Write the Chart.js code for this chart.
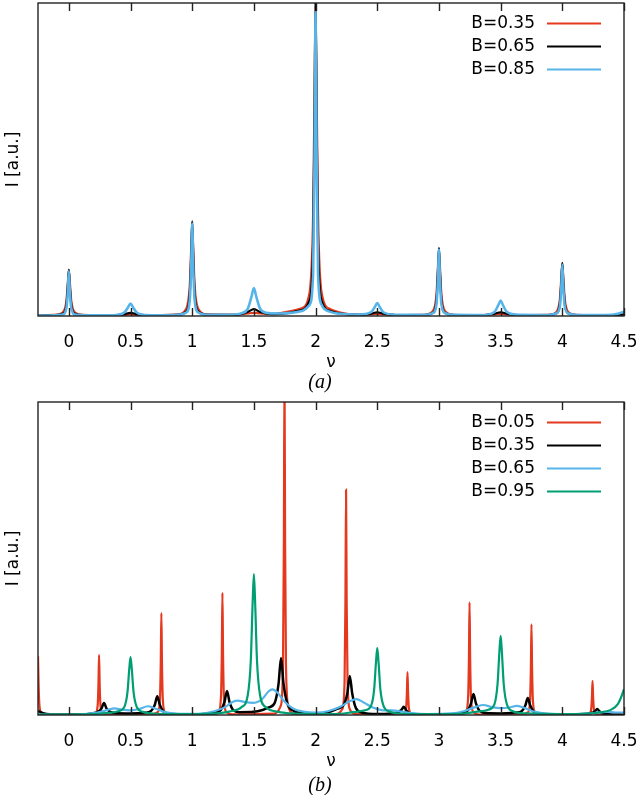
<!DOCTYPE html>
<html>
<head>
<meta charset="utf-8">
<script src="https://cdn.jsdelivr.net/npm/chart.js@4"></script>
<style>
  html, body { margin: 0; padding: 0; background: #fff; }
  #wrap { position: relative; width: 640px; height: 795px; }
  .panel { position: absolute; left: 0; width: 640px; }
  .cap { position: absolute; left: 0; width: 640px; text-align: center;
         font: italic 20px "Liberation Serif", "DejaVu Serif", serif; line-height: 24px; color: #000; }
</style>
</head>
<body>
<div id="wrap">
  <div class="panel" style="top:0;height:374px"><canvas id="chartA"></canvas></div>
  <div class="cap" style="top:369px">(a)</div>
  <div class="panel" style="top:395px;height:378px"><canvas id="chartB"></canvas></div>
  <div class="cap" style="top:772px">(b)</div>
</div>
<script>
// x axis
const xMin = -0.25;
const xMax = 4.5;
const xTicks = [0, 0.5, 1, 1.5, 2, 2.5, 3, 3.5, 4, 4.5];

// panel (a) labels and spectra, [nu, I] (I in % of the frame height)
const labelsA = ['B=0.35', 'B=0.65', 'B=0.85'];

const specA035 = [
  [-0.25,0.15],[-0.12,0.35],[-0.05,1.1],[-0.02,4.8],[-0.008,10.9],[0,14.5],[0.008,10.9],[0.02,4.8],[0.05,1.1],[0.12,0.35],
  [0.35,0.2],[0.45,0.35],[0.5,0.5],[0.55,0.35],[0.65,0.2],
  [0.88,0.5],[0.95,2.2],[0.98,9.7],[0.992,22],[1,29.5],[1.008,22],[1.02,9.7],[1.05,2.2],[1.12,0.55],
  [1.35,0.4],[1.45,0.8],[1.5,1.0],[1.55,0.8],[1.65,0.6],
  [1.8,1.6],[1.88,2.4],[1.95,7.2],[1.98,32.7],[1.992,74],[2,99],[2.008,74],[2.02,32.7],[2.05,7.2],[2.12,2.2],[2.2,1.1],
  [2.35,0.35],[2.45,0.55],[2.5,0.7],[2.55,0.55],[2.65,0.3],
  [2.88,0.4],[2.95,1.5],[2.98,7],[2.992,16],[3,21.2],[3.008,16],[3.02,7],[3.05,1.5],[3.12,0.4],
  [3.35,0.25],[3.45,0.55],[3.5,0.7],[3.55,0.55],[3.65,0.25],
  [3.88,0.35],[3.95,1.2],[3.98,5.4],[3.992,12.3],[4,16.4],[4.008,12.3],[4.02,5.4],[4.05,1.2],[4.12,0.35],
  [4.35,0.2],[4.5,0.3]
];

const specA065 = [
  [-0.25,0.1],[-0.12,0.25],[-0.05,0.7],[-0.02,3.4],[-0.008,9.6],[0,14.8],[0.008,9.6],[0.02,3.4],[0.05,0.7],[0.12,0.25],
  [0.35,0.2],[0.45,0.6],[0.5,1.0],[0.55,0.6],[0.65,0.2],
  [0.88,0.35],[0.95,1.4],[0.98,6.9],[0.992,19.6],[1,30.2],[1.008,19.6],[1.02,6.9],[1.05,1.4],[1.12,0.4],
  [1.35,0.4],[1.45,1.3],[1.5,2.2],[1.55,1.3],[1.65,0.6],
  [1.8,1.1],[1.88,1.8],[1.95,4.8],[1.98,23],[1.992,66],[2,101],[2.008,66],[2.02,23],[2.05,4.8],[2.12,1.6],[2.2,0.8],
  [2.35,0.35],[2.45,0.75],[2.5,1.2],[2.55,0.75],[2.65,0.3],
  [2.88,0.3],[2.95,1.0],[2.98,5],[2.992,14.2],[3,21.8],[3.008,14.2],[3.02,5],[3.05,1.0],[3.12,0.3],
  [3.35,0.25],[3.45,0.75],[3.5,1.2],[3.55,0.75],[3.65,0.25],
  [3.88,0.3],[3.95,0.8],[3.98,3.9],[3.992,11],[4,17],[4.008,11],[4.02,3.9],[4.05,0.8],[4.12,0.3],
  [4.35,0.2],[4.5,0.5]
];

const specA085 = [
  [-0.25,0.15],[-0.12,0.2],[-0.05,0.45],[-0.02,2.5],[-0.008,8],[0,14.4],[0.008,8],[0.02,2.5],[0.05,0.45],[0.12,0.2],
  [0.3,0.2],[0.4,0.4],[0.45,1.1],[0.48,2.8],[0.5,4.0],[0.52,2.8],[0.55,1.1],[0.6,0.4],[0.7,0.25],
  [0.88,0.35],[0.95,1.1],[0.98,5],[0.992,16.5],[1,29.5],[1.008,16.5],[1.02,5],[1.05,1.1],[1.12,0.4],
  [1.3,0.4],[1.4,0.9],[1.45,2.3],[1.48,6.1],[1.5,8.9],[1.52,6.1],[1.55,2.4],[1.6,1.0],[1.7,0.8],
  [1.8,1.0],[1.88,1.5],[1.95,3.5],[1.98,13.5],[1.992,54],[2,97],[2.008,54],[2.02,13.5],[2.05,3.5],[2.12,1.3],[2.2,0.7],
  [2.35,0.45],[2.45,1.2],[2.48,2.9],[2.5,4.1],[2.52,2.9],[2.55,1.2],[2.65,0.4],
  [2.88,0.35],[2.95,0.9],[2.98,3.8],[2.992,12],[3,21.2],[3.008,12],[3.02,3.8],[3.05,0.9],[3.12,0.35],
  [3.35,0.3],[3.45,1.3],[3.48,3.4],[3.5,4.9],[3.52,3.4],[3.55,1.3],[3.65,0.35],
  [3.88,0.3],[3.95,0.8],[3.98,3],[3.992,9.3],[4,16.4],[4.008,9.3],[4.02,3],[4.05,0.8],[4.12,0.3],
  [4.35,0.3],[4.45,0.7],[4.5,1.4]
];

// panel (b)
const labelsB = ['B=0.05', 'B=0.35', 'B=0.65', 'B=0.95'];

const specB005 = [
  [-0.25,18.8],[-0.245,9.4],[-0.238,2.8],[-0.22,0.5],[-0.17,0.1],
  [0.165,0.1],[0.215,0.5],[0.233,2.8],[0.24,9.6],[0.245,19.2],[0.25,9.6],[0.257,2.8],[0.275,0.5],[0.325,0.1],
  [0.67,0.15],[0.72,0.9],[0.738,4.8],[0.745,16.3],[0.75,32.6],[0.755,16.3],[0.762,4.8],[0.78,0.9],[0.83,0.15],
  [1.165,0.15],[1.215,1.05],[1.233,5.8],[1.24,19.5],[1.245,39],[1.25,19.5],[1.257,5.8],[1.275,1.05],[1.325,0.2],
  [1.668,0.45],[1.718,3],[1.736,16],[1.743,55],[1.748,110],[1.753,55],[1.76,16],[1.778,3],[1.828,0.45],
  [2.167,0.3],[2.217,1.9],[2.235,10.6],[2.242,36],[2.247,72],[2.252,36],[2.259,10.6],[2.277,1.9],[2.327,0.3],
  [2.665,0.1],[2.715,0.4],[2.733,2],[2.74,6.8],[2.745,13.7],[2.75,6.8],[2.757,2],[2.775,0.4],[2.825,0.1],
  [3.168,0.15],[3.218,1],[3.236,5.3],[3.243,18],[3.248,36],[3.253,18],[3.26,5.3],[3.278,1],[3.328,0.15],
  [3.67,0.12],[3.72,0.8],[3.738,4.3],[3.745,14.5],[3.75,29],[3.755,14.5],[3.762,4.3],[3.78,0.8],[3.83,0.12],
  [4.165,0.05],[4.215,0.3],[4.233,1.6],[4.24,5.4],[4.245,10.9],[4.25,5.4],[4.257,1.6],[4.275,0.3],[4.325,0.05],
  [4.5,0.05]
];

const specB035 = [
  [-0.25,1.3],[-0.2,0.5],[-0.1,0.15],[0.1,0.2],[0.185,0.5],[0.235,1.0],[0.265,2.1],[0.285,3.8],[0.305,2.1],[0.335,1.0],[0.385,0.55],[0.5,0.5],
  [0.617,0.7],[0.667,1.3],[0.697,3.3],[0.717,6],[0.737,3.3],[0.767,1.1],[0.817,0.4],[0.95,0.2],
  [1.1,0.3],[1.182,0.7],[1.232,1.6],[1.262,4.2],[1.282,7.7],[1.302,4.2],[1.332,1.6],[1.382,0.9],[1.5,1.0],
  [1.57,1.6],[1.62,2.4],[1.67,4.0],[1.7,10],[1.72,18.2],[1.74,10],[1.77,3.8],[1.82,1.4],[1.92,0.5],[2.05,0.5],
  [2.127,1.2],[2.177,2.0],[2.227,3.2],[2.257,6.9],[2.277,12.5],[2.297,6.9],[2.327,2.2],[2.377,0.8],[2.5,0.3],
  [2.615,0.5],[2.665,0.8],[2.695,1.6],[2.715,2.6],[2.735,1.5],[2.765,0.5],[2.85,0.15],
  [3.1,0.2],[3.18,0.6],[3.23,1.3],[3.26,3.7],[3.28,6.7],[3.3,3.7],[3.33,1.3],[3.38,0.6],[3.5,0.5],
  [3.62,0.8],[3.67,1.2],[3.7,3.0],[3.72,5.4],[3.74,3.0],[3.77,1.0],[3.82,0.4],[3.95,0.15],
  [4.18,0.3],[4.23,0.6],[4.263,1.1],[4.283,1.9],[4.303,1.1],[4.333,0.5],[4.4,0.2],[4.5,0.1]
];

const specB065 = [
  [-0.25,0.1],[0,0.15],[0.15,0.4],[0.25,0.9],[0.32,1.7],[0.37,2.1],[0.43,1.7],[0.5,1.5],[0.57,1.9],[0.64,2.8],[0.7,2.1],[0.78,0.9],[0.9,0.35],
  [1.05,0.4],[1.18,1.2],[1.27,2.6],[1.33,4.2],[1.37,4.6],[1.43,4.1],[1.5,3.9],[1.57,5.2],[1.62,7.6],[1.65,8.2],[1.69,7.2],[1.75,4.2],[1.82,2.0],[1.9,1.1],[2.0,0.8],
  [2.1,1.2],[2.2,2.6],[2.28,4.5],[2.33,5.1],[2.39,4.0],[2.47,2.3],[2.55,1.5],[2.62,1.5],[2.68,1.2],[2.78,0.6],[2.9,0.3],
  [3.1,0.5],[3.2,1.2],[3.3,2.6],[3.36,3.2],[3.43,2.5],[3.5,2.2],[3.57,2.4],[3.63,2.9],[3.69,2.3],[3.78,1.0],[3.9,0.4],
  [4.1,0.3],[4.25,0.6],[4.36,1.0],[4.43,0.8],[4.5,0.8]
];

const specB095 = [
  [-0.25,0.15],[0.2,0.3],[0.3,0.6],[0.4,1.2],[0.45,2.6],[0.475,7.2],[0.49,14.8],[0.5,18.5],[0.51,14.8],[0.525,7.2],[0.55,2.6],[0.6,1.0],[0.7,0.4],[1.0,0.25],
  [1.2,0.5],[1.3,1.1],[1.4,2.5],[1.45,6.3],[1.475,17.5],[1.49,36],[1.5,45],[1.51,36],[1.525,17.5],[1.55,6.3],[1.6,2.4],[1.7,1.0],[1.8,0.5],[2.0,0.3],
  [2.2,0.4],[2.3,0.9],[2.4,1.5],[2.45,3.0],[2.475,8.3],[2.49,17.1],[2.5,21.4],[2.51,17.1],[2.525,8.3],[2.55,3.0],[2.6,1.1],[2.7,0.4],[3.0,0.25],
  [3.2,0.45],[3.3,1.0],[3.4,1.7],[3.45,3.5],[3.475,9.9],[3.49,20.2],[3.5,25.3],[3.51,20.2],[3.525,9.9],[3.55,3.5],[3.6,1.2],[3.7,0.5],[4.0,0.3],
  [4.3,0.8],[4.4,1.8],[4.45,3.5],[4.475,5.5],[4.5,8.3]
];

const RED = '#e4391e';
const BLACK = '#000000';
const BLUE = '#56b4e9';
const GREEN = '#009e73';

const FONT = 'DejaVu Sans';

// frame, inward x tics on top and bottom, gnuplot style key
const framePlugin = {
  id: 'frame',
  afterDatasetsDraw(chart) {
    const { ctx, chartArea: a } = chart;
    const xs = chart.scales.x;
    ctx.save();
    ctx.strokeStyle = '#222';
    ctx.lineWidth = 1.4;
    ctx.beginPath();
    xs.ticks.forEach(t => {
      const px = Math.round(xs.getPixelForValue(t.value)) + 0.5;
      ctx.moveTo(px, a.bottom);
      ctx.lineTo(px, a.bottom - 8);
      ctx.moveTo(px, a.top);
      ctx.lineTo(px, a.top + 8);
    });
    ctx.stroke();
    ctx.strokeRect(a.left, a.top, a.right - a.left, a.bottom - a.top);

    // key
    ctx.font = '17px "' + FONT + '"';
    ctx.textAlign = 'right';
    ctx.textBaseline = 'middle';
    chart.data.datasets.forEach((ds, i) => {
      const y = a.top + 20.5 + i * 23;
      ctx.fillStyle = '#000';
      ctx.fillText(ds.label, a.right - 89, y);
      ctx.strokeStyle = ds.borderColor;
      ctx.lineWidth = 2;
      ctx.beginPath();
      ctx.moveTo(a.right - 77, y);
      ctx.lineTo(a.right - 23, y);
      ctx.stroke();
    });
    ctx.restore();
  }
};

function makeDataset(label, data, color, n, i, width) {
  return {
    label: label,
    data: data,
    borderColor: color,
    backgroundColor: color,
    borderWidth: width || 2.2,
    pointRadius: 0,
    cubicInterpolationMode: 'monotone',
    order: n - i
  };
}

function makeOptions(padTop) {
  return {
    responsive: true,
    maintainAspectRatio: false,
    animation: false,
    layout: { padding: { left: 0, right: 16, top: padTop, bottom: 0 } },
    plugins: { legend: { display: false }, tooltip: { enabled: false } },
    scales: {
      x: {
        type: 'linear',
        min: xMin,
        max: xMax,
        afterBuildTicks: s => { s.ticks = xTicks.map(v => ({ value: v })); },
        afterFit: s => { s.height = 58; s.paddingLeft = 0; s.paddingRight = 0; },
        grid: { display: false, drawTicks: false },
        border: { display: false },
        ticks: {
          callback: v => String(v),
          color: '#000',
          font: { family: FONT, size: 17 },
          padding: 16,
          maxRotation: 0
        },
        title: {
          display: true,
          text: 'ν',
          color: '#000',
          font: { family: FONT, size: 17 },
          padding: { top: 0, bottom: 1 }
        }
      },
      y: {
        min: 0,
        max: 100,
        afterFit: s => { s.width = 38; },
        grid: { display: false, drawTicks: false },
        border: { display: false },
        ticks: { display: false },
        title: {
          display: true,
          text: 'I [a.u.]',
          color: '#000',
          font: { family: FONT, size: 17 },
          padding: { top: 3, bottom: 0 }
        }
      }
    }
  };
}

new Chart(document.getElementById('chartA'), {
  type: 'line',
  data: {
    datasets: [
      makeDataset(labelsA[0], specA035, RED, 3, 0),
      makeDataset(labelsA[1], specA065, BLACK, 3, 1),
      makeDataset(labelsA[2], specA085, BLUE, 3, 2, 2.6)
    ]
  },
  options: makeOptions(3),
  plugins: [framePlugin]
});

new Chart(document.getElementById('chartB'), {
  type: 'line',
  data: {
    datasets: [
      makeDataset(labelsB[0], specB005, RED, 4, 0),
      makeDataset(labelsB[1], specB035, BLACK, 4, 1, 2.5),
      makeDataset(labelsB[2], specB065, BLUE, 4, 2),
      makeDataset(labelsB[3], specB095, GREEN, 4, 3)
    ]
  },
  options: makeOptions(7),
  plugins: [framePlugin]
});
</script>
</body>
</html>
